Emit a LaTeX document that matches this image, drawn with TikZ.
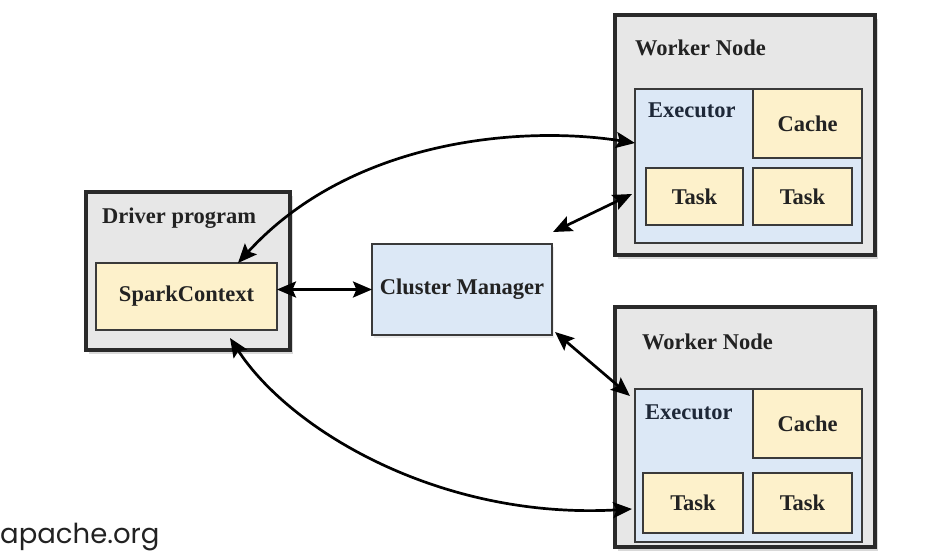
\documentclass[tikz,border=0pt]{standalone}
\usepackage{fontspec}
\setmainfont{Liberation Serif}
\newfontfamily\sitefont{Poppins}
\usetikzlibrary{arrows.meta,shadows,calc}
\definecolor{outerfill}{HTML}{E7E7E7}
\definecolor{bluefill}{HTML}{DCE8F6}
\definecolor{yellowfill}{HTML}{FDF1CB}
\definecolor{boxline}{HTML}{3A3A3A}
\definecolor{outerline}{HTML}{2A2A2A}
\definecolor{labelcol}{HTML}{222222}
\definecolor{execcol}{HTML}{1E2838}
\begin{document}
\begin{tikzpicture}[x=1pt,y=-1pt,
  box/.style={rectangle, draw=boxline, line width=1.6pt, inner sep=0pt, outer sep=0pt},
  outerbox/.style={box, draw=outerline, fill=outerfill, line width=3.6pt,
    drop shadow={shadow xshift=3pt, shadow yshift=-4pt, opacity=0.3, fill=black!50}},
  bluebox/.style={box, fill=bluefill},
  yellowbox/.style={box, fill=yellowfill, font=\bfseries\fontsize{22.5}{26}\selectfont, text=labelcol},
  lbl/.style={font=\bfseries\fontsize{22.5}{26}\selectfont, text=labelcol, inner sep=0pt, anchor=west},
  link/.style={line width=2.7pt, draw=black,
    {Stealth[length=19pt,width=16pt,inset=3.5pt]}-{Stealth[length=19pt,width=16pt,inset=3.5pt]}}
]
\useasboundingbox (0,0) rectangle (939,552);

% Top worker node
\node[outerbox, minimum width=260pt, minimum height=240pt] (w1) at (745,135) {};
\node[lbl] (w1lbl) at (635,48) {Worker Node};
\node[bluebox, minimum width=227pt, minimum height=154pt] (e1) at (748.5,166) {};
\node[lbl, text=execcol] (e1lbl) at (648,110) {Executor};
\node[yellowbox, minimum width=109pt, minimum height=69pt] (c1) at (807.5,123.5) {Cache};
\node[yellowbox, minimum width=97pt, minimum height=57pt] (t1a) at (694.5,196.5) {Task};
\node[yellowbox, minimum width=99pt, minimum height=57pt] (t1b) at (802.5,196.5) {Task};

% Bottom worker node
\node[outerbox, minimum width=260pt, minimum height=240pt] (w2) at (745,427) {};
\node[lbl] (w2lbl) at (642,342) {Worker Node};
\node[bluebox, minimum width=227pt, minimum height=153pt] (e2) at (748.5,465.5) {};
\node[lbl, text=execcol] (e2lbl) at (645,412) {Executor};
\node[yellowbox, minimum width=109pt, minimum height=69pt] (c2) at (807.5,423.5) {Cache};
\node[yellowbox, minimum width=100pt, minimum height=60pt] (t2a) at (693,503) {Task};
\node[yellowbox, minimum width=99pt, minimum height=60pt] (t2b) at (802.5,503) {Task};

% Driver program
\node[outerbox, minimum width=204pt, minimum height=158pt] (drv) at (188,271) {};
\node[lbl] (drvlbl) at (102,218) {Driver program};
\node[yellowbox, minimum width=181pt, minimum height=67pt] (sc) at (186.5,296.5) {SparkContext};

% Cluster manager
\node[box, fill=bluefill, minimum width=180pt, minimum height=91pt,
  font=\bfseries\fontsize{22.5}{26}\selectfont, text=labelcol,
  drop shadow={shadow xshift=2pt, shadow yshift=-3pt, opacity=0.15, fill=black!50}] (cm) at (462,289.5) {Cluster Manager};

% Connectors
\draw[link] (sc.east |- cm.west) -- (cm.west);
\draw[link] ([yshift=23pt]e1.west) .. controls (520,125) and (350,140) .. ([xshift=51.5pt]sc.north);
\draw[link] ([shift={(1pt,12pt)}]cm.north east) -- ([shift={(-3pt,-28pt)}]e1.west);
\draw[link] ([shift={(3pt,3pt)}]cm.south east) -- ([shift={(-5pt,-7pt)}]e2.north west);
\draw[link] ([shift={(43.5pt,-8pt)}]sc.south) .. controls (290,430) and (440,520) .. ([shift={(-3pt,-43.5pt)}]e2.west);

% Source
\node[inner sep=0pt, anchor=base west, font=\sitefont\fontsize{27.5}{32}\selectfont, text=labelcol] (src) at (0,543) {apache.org};
\end{tikzpicture}
\end{document}
